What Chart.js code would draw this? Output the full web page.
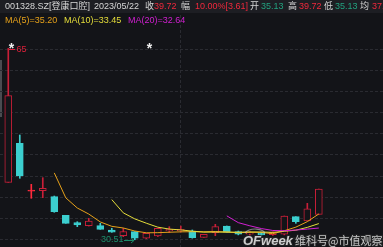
<!DOCTYPE html>
<html><head><meta charset="utf-8">
<script src="https://cdn.jsdelivr.net/npm/chart.js@4"></script>
<style>html,body{margin:0;padding:0;background:#131418;overflow:hidden}</style>
</head><body><canvas id="c" width="383" height="247"></canvas>
<script>
// Daily candles for 001328.SZ (登康口腔)
const opens  = [40.94,48.02,39.42,39.42,38.33,34.95,33.61,33.07,33.07,32.29,31.25,31.98,30.78,31.20,32.10,32.10,32.10,30.96,31.80,33.01,31.98,31.51,31.75,31.43,31.51,34.70,33.92,35.13];
const highs  = [65.26,49.53,40.58,41.78,38.45,34.95,33.79,34.41,33.50,32.60,32.60,31.98,31.69,32.60,32.89,33.00,32.29,31.51,33.32,33.01,32.10,32.00,31.90,31.95,34.83,34.70,37.13,39.72];
const lows   = [40.94,41.67,38.04,38.15,35.50,33.50,32.89,33.00,32.41,31.87,31.07,30.51,30.70,31.10,31.80,31.92,30.80,30.96,31.25,31.87,31.40,31.30,31.20,31.30,31.40,33.50,33.92,35.13];
const closes = [56.66,42.09,39.42,39.85,35.61,33.50,33.19,33.92,32.41,31.87,31.98,30.78,31.69,32.60,32.41,32.41,30.89,31.51,32.89,31.87,31.51,31.75,31.40,31.87,34.83,33.79,36.11,39.72];
const ma5  = [null,null,null,null,42.65,38.12,36.28,35.18,33.75,32.95,32.65,32.10,31.78,31.80,31.88,31.95,31.98,31.95,32.00,31.92,31.78,31.88,31.85,31.62,32.15,32.80,33.80,35.20];
const ma10 = [null,null,null,null,null,null,null,null,null,37.80,35.40,34.30,33.52,32.80,32.45,32.30,32.08,31.90,31.92,31.90,31.88,31.93,31.92,31.86,32.05,32.25,32.76,33.45];
const ma20 = [null,null,null,null,null,null,null,null,null,null,null,null,null,null,null,null,null,null,null,34.85,33.62,33.05,32.55,32.20,32.15,32.28,32.45,32.64];
const gridPrices = [30.56,34.40,38.23,42.07,45.90,49.74,53.57,57.41,61.24,65.08];

const BG = '#131418', UP = '#c81f38', DN = '#3ccfcf', DOJI = '#ff2a3c';
const idx = closes.map((_, i) => i);
const isDoji = i => opens[i] === closes[i];
const bodyData = idx.map(i => {
  if (isDoji(i)) return {x: i, y: [opens[i] - 0.09, opens[i] + 0.09]};
  return {x: i, y: [Math.min(opens[i], closes[i]), Math.max(opens[i], closes[i])]};
});
const upCol = i => isDoji(i) ? DOJI : (closes[i] > opens[i] ? UP : DN);
const bodyFill = idx.map(i => isDoji(i) ? DOJI : (closes[i] > opens[i] ? BG : DN));

const bgPlugin = {
  id: 'bg',
  beforeDraw(chart) {
    const c = chart.ctx;
    c.save(); c.fillStyle = BG; c.fillRect(0, 0, chart.width, chart.height);
    c.fillStyle = '#4a4b50'; c.fillRect(0, 60, 2, 57);
    c.restore();
  },
  afterDraw(chart) {
    const c = chart.ctx;
    c.save();
    c.fillStyle = '#1d1e23'; c.fillRect(0, 0, chart.width, 13);
    const F = '9px "Liberation Sans", "Noto Sans CJK SC", sans-serif';
    c.font = F; c.textBaseline = 'middle'; c.textAlign = 'left';
    const W = '#d6d6d6', R = '#f0283c', G = '#22a27f';
    const row = [
      ['001328.SZ[登康口腔]', 5, W], ['2023/05/22', 94, W], ['收', 145, W], ['39.72', 154, R],
      ['幅', 181, W], ['10.00%[3.61]', 195, R], ['开', 250, W], ['35.13', 261, G],
      ['高', 288, W], ['39.72', 299, R], ['低', 324, W], ['35.13', 335, G], ['均', 360, W], ['37.43', 372, R]
    ];
    row.forEach(([t, x, col]) => { c.fillStyle = col; c.fillText(t, x, 7); });
    [['MA(5)=35.20', 5, '#e6a11a'], ['MA(10)=33.45', 64, '#e5dd3a'], ['MA(20)=32.64', 128, '#d21fd2']]
      .forEach(([t, x, col]) => { c.fillStyle = col; c.fillText(t, x, 21); });
    // high label
    c.strokeStyle = '#e0203a'; c.lineWidth = 1;
    c.beginPath(); c.moveTo(9, 49.5); c.lineTo(15, 49.5); c.stroke();
    c.fillStyle = '#e0203a'; c.fillText('65', 16.5, 50);
    // asterisks
    c.fillStyle = '#f0f0f0'; c.font = 'bold 14px "Liberation Sans", sans-serif'; c.textAlign = 'center';
    c.fillText('*', 11.5, 49); c.fillText('*', 149.5, 49);
    // low label
    c.textAlign = 'left'; c.font = F; c.fillStyle = '#1a8c6a';
    c.fillText('30.51', 101, 240);
    c.strokeStyle = '#1a8c6a';
    c.beginPath(); c.moveTo(124, 240.5); c.lineTo(134, 240.5); c.moveTo(131, 238); c.lineTo(134, 240.5); c.lineTo(131, 243); c.stroke();
    // watermark
    c.strokeStyle = 'rgba(200,200,200,0.6)'; c.lineWidth = 1.2;
    c.beginPath(); c.ellipse(255, 234, 10, 5, 0, Math.PI * 1.05, Math.PI * 1.95); c.stroke();
    c.font = 'italic bold 13px "Liberation Sans", sans-serif'; c.textBaseline = 'alphabetic';
    c.lineWidth = 2; c.strokeStyle = 'rgba(40,40,40,0.7)'; c.strokeText('OFweek', 243, 245);
    c.fillStyle = 'rgba(235,235,235,0.85)'; c.fillText('OFweek', 243, 245);
    c.font = '11px "Noto Sans CJK SC", sans-serif';
    c.strokeText('维科号@市值观察', 295, 245);
    c.fillStyle = 'rgba(225,225,225,0.85)'; c.fillText('维科号@市值观察', 295, 245);
    c.restore();
  }
};

const line = (arr, col) => ({
  type: 'line', data: idx.filter(i => arr[i] !== null).map(i => ({x: i, y: arr[i]})),
  borderColor: col, borderWidth: 1, pointRadius: 0, fill: false, tension: 0, order: 1
});

new Chart(document.getElementById('c'), {
  type: 'bar',
  data: {
    datasets: [
      {type: 'bar', data: idx.map(i => ({x: i, y: [lows[i], highs[i]]})), backgroundColor: idx.map(upCol),
       borderWidth: 0, barThickness: 1, grouped: false, order: 3},
      {type: 'bar', data: bodyData, backgroundColor: bodyFill, borderColor: idx.map(upCol), borderWidth: 1,
       borderSkipped: false, barThickness: 7, grouped: false, order: 2},
      line(ma20, '#d21fd2'), line(ma10, '#e5dd3a'), line(ma5, '#e6a11a')
    ]
  },
  options: {
    responsive: false, animation: false, events: [],
    layout: {padding: 0},
    plugins: {legend: {display: false}, tooltip: {enabled: false}},
    scales: {
      x: {type: 'linear', min: -0.72, max: 32.58, offset: false,
          ticks: {display: false}, grid: {color: '#2a2b31', drawTicks: false, offset: false},
          border: {display: false, dash: [3, 2]},
          afterBuildTicks(s) { s.ticks = [{value: 15}]; }, afterFit(s) { s.height = 0; }},
      y: {type: 'linear', min: 29.20, max: 74.03,
          ticks: {display: false}, grid: {color: '#2a2b31', drawTicks: false},
          border: {display: false, dash: [3, 2]},
          afterBuildTicks(s) { s.ticks = gridPrices.map(v => ({value: v})); }, afterFit(s) { s.width = 0; }}
    }
  },
  plugins: [bgPlugin]
});
</script>
</body></html>
